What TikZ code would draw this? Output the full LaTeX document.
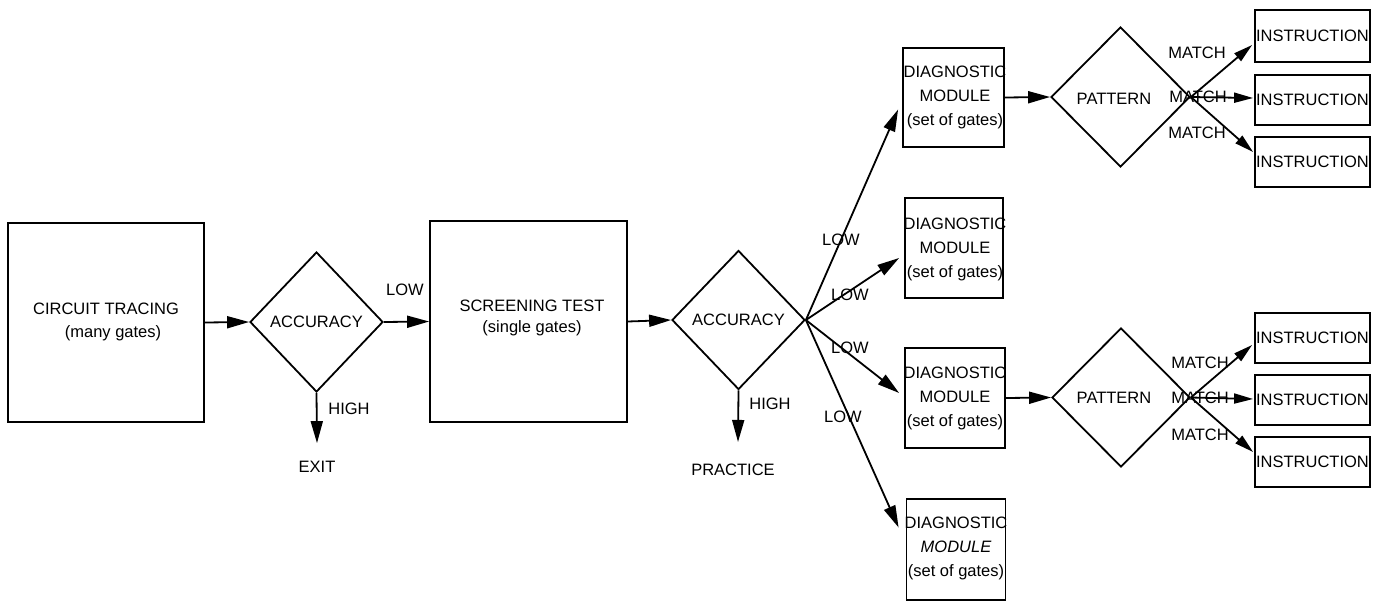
\documentclass[tikz,border=0pt]{standalone}
\usepackage{fontspec}
\setmainfont{Liberation Sans}
\usetikzlibrary{shapes.geometric,arrows.meta,calc}
\begin{document}
\begin{tikzpicture}[x=1pt,y=-1pt,
  every node/.style={font=\fontsize{16.5}{24}\selectfont},
  box/.style={draw, line width=1.8pt, inner sep=0pt},
  dia/.style={draw, diamond, line width=1.8pt, inner sep=0pt},
  txt/.style={inner sep=0pt, align=center},
  lab/.style={inner sep=0pt},
  arr/.style={line width=1.8pt, -{Triangle[length=22pt,width=12pt]}},
  sarr/.style={line width=1.8pt, -{Triangle[length=19pt,width=10pt]}}]
\useasboundingbox (0,0) rectangle (1382,602);

% main chain
\node[box, minimum width=196pt, minimum height=199pt] (ct) at (106,322.5) {};
\node[txt, font=\fontsize{16.5}{23}\selectfont] (ctt) at (106,322) {CIRCUIT TRACING\\\hspace*{14pt}(many gates)};
\node[dia, minimum width=133pt, minimum height=140pt] (acc1) at (316.5,322) {ACCURACY};
\node[box, minimum width=197pt, minimum height=201pt] (st) at (528.5,321.5) {};
\node[txt, font=\fontsize{16.5}{21}\selectfont] (stt) at (532,318) {SCREENING TEST\\(single gates)};
\node[dia, minimum width=133pt, minimum height=139pt] (acc2) at (738.5,320) {ACCURACY};

\node[lab] (low0) at (405,290) {LOW};
\node[lab] (high1) at (349,409) {HIGH};
\node[lab] (exit) at (317,467) {EXIT};
\node[lab] (high2) at (770,404) {HIGH};
\node[lab] (prac) at (733,470) {PRACTICE};

\draw[arr] (ct.east) -- (acc1.west);
\draw[arr] (acc1.east) -- (st.west);
\draw[arr] (st.east) -- (acc2.west);
\draw[arr] (acc1.south) -- ($(exit.north)+(0,-18)$);
\draw[arr] (acc2.south) -- ($(prac.north)+(5,-22)$);

% diagnostic modules
\node[box, minimum width=101pt, minimum height=99pt] (dm1) at (953.5,97.5) {};
\node[box, minimum width=98pt, minimum height=100pt] (dm2) at (954,248) {};
\node[box, minimum width=100pt, minimum height=100pt] (dm3) at (955,398) {};
\node[box, minimum width=99pt, minimum height=101pt] (dm4) at (956,549.5) {};
\node[txt] (dm1t) at (955,97) {DIAGNOSTIC\\MODULE\\(set of gates)};
\node[txt] (dm2t) at (955,249) {DIAGNOSTIC\\MODULE\\(set of gates)};
\node[txt] (dm3t) at (955,398) {DIAGNOSTIC\\MODULE\\(set of gates)};
\node[txt] (dm4t) at (956,548) {DIAGNOSTIC\\{\itshape MODULE}\\(set of gates)};

\draw[arr] (acc2.east) -- ($(dm1.west)+(-4,12)$);
\draw[arr] (acc2.east) -- ($(dm2.west)+(-5,10)$);
\draw[arr] (acc2.east) -- ($(dm3.west)+(-5,-5)$);
\draw[arr] (acc2.east) -- ($(dm4.west)+(-7,-22)$);

\node[lab] (low1) at (841,240) {LOW};
\node[lab] (low2) at (850,295) {LOW};
\node[lab] (low3) at (850,348) {LOW};
\node[lab] (low4) at (843,417) {LOW};

% patterns
\node[dia, minimum width=139pt, minimum height=140pt] (pat1) at (1120.5,97) {};
\node[lab] (pat1t) at (1114,99) {PATTERN};
\node[dia, minimum width=138pt, minimum height=139pt] (pat2) at (1121,397.5) {};
\node[lab] (pat2t) at (1114,398) {PATTERN};

\draw[arr] (dm1.east) -- (pat1.west);
\draw[arr] (dm3.east) -- (pat2.west);

% instructions
\node[box, minimum width=115pt, minimum height=52pt] (i1) at (1312.5,36) {INSTRUCTION};
\node[box, minimum width=115pt, minimum height=50pt] (i2) at (1312.5,100) {INSTRUCTION};
\node[box, minimum width=115pt, minimum height=50pt] (i3) at (1312.5,162) {INSTRUCTION};
\node[box, minimum width=115pt, minimum height=50pt] (i4) at (1312.5,338) {INSTRUCTION};
\node[box, minimum width=115pt, minimum height=50pt] (i5) at (1312.5,400) {INSTRUCTION};
\node[box, minimum width=115pt, minimum height=50pt] (i6) at (1312.5,462) {INSTRUCTION};

\draw[sarr] (pat1.east) -- ($(i1.west)+(-2,9)$);
\draw[sarr] (pat1.east) -- ($(i2.west)+(-1,-2)$);
\draw[sarr] (pat1.east) -- ($(i3.west)+(-1,-10)$);
\draw[sarr] (pat2.east) -- ($(i4.west)+(-2,7)$);
\draw[sarr] (pat2.east) -- ($(i5.west)+(-1,-1)$);
\draw[sarr] (pat2.east) -- ($(i6.west)+(-1,-10)$);

\node[lab] (m1) at (1197,53) {MATCH};
\node[lab] (m2) at (1198,97) {MATCH};
\node[lab] (m3) at (1197,133) {MATCH};
\node[lab] (m4) at (1200,363) {MATCH};
\node[lab] (m5) at (1200,398) {MATCH};
\node[lab] (m6) at (1200,435) {MATCH};
\end{tikzpicture}
\end{document}
